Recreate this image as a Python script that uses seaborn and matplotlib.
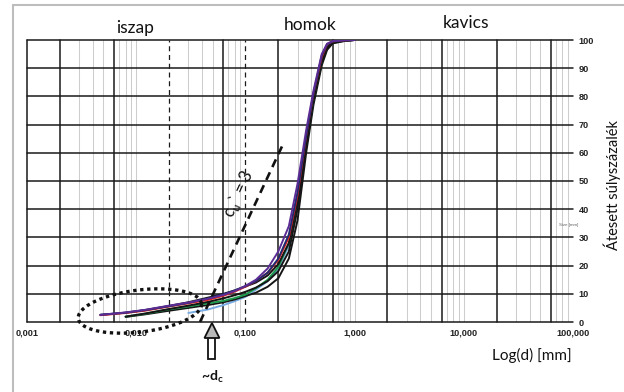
import numpy as np
import pandas as pd
import matplotlib
matplotlib.use("Agg")
import matplotlib.pyplot as plt
import seaborn as sns
from matplotlib.lines import Line2D
from matplotlib.patches import Polygon
from matplotlib.transforms import IdentityTransform

# Grain diameters [mm] and passing percentages of each sample
diam = [0.0047, 0.008, 0.012, 0.02, 0.03, 0.045, 0.063, 0.08, 0.1, 0.125,
        0.16, 0.2, 0.25, 0.3, 0.36, 0.42, 0.5, 0.56, 0.63, 0.8, 1.0]
nan = np.nan
blue = [nan, nan, nan, nan, 3.2, 4.4, 6.0, 7.4, 8.9, 11.5,
        14.5, 19.0, 27.0, 41.0, 63.0, 79.0, 92.5, 97.5, 99.2, 99.8, 100.0]
black3 = [nan, 1.8, 2.7, 4.0, 5.0, 6.0, 7.0, 8.0, 9.2, 10.4,
          12.5, 15.5, 22.5, 36.0, 60.0, 77.0, 91.0, 96.5, 98.8, 99.6, 100.0]
green = [nan, 1.9, 2.9, 4.5, 5.5, 6.6, 7.5, 8.5, 9.7, 12.0,
         15.0, 19.5, 28.0, 42.0, 63.0, 79.0, 92.5, 97.5, 99.2, 99.8, 100.0]
black2 = [nan, 1.9, 3.0, 4.6, 5.8, 7.1, 8.4, 9.5, 10.7, 12.2,
          14.5, 18.0, 25.0, 40.0, 62.0, 78.5, 92.0, 97.0, 99.0, 99.7, 100.0]
black1 = [2.5, 3.3, 4.2, 5.7, 7.0, 8.6, 10.0, 11.2, 12.6, 14.0,
          16.5, 20.5, 28.0, 43.0, 64.0, 80.0, 93.0, 97.5, 99.2, 99.8, 100.0]
red = [2.4, 3.2, 4.0, 5.5, 6.6, 7.8, 9.3, 10.8, 12.5, 14.5,
       17.5, 22.0, 30.0, 45.0, 66.0, 81.0, 94.0, 98.5, 99.5, 99.9, 100.0]
navy = [2.6, 3.3, 4.2, 5.6, 6.8, 8.3, 9.8, 11.2, 12.7, 14.5,
        17.5, 22.5, 31.0, 46.0, 66.0, 81.0, 94.5, 98.5, 99.5, 99.9, 100.0]
purple = [2.5, 3.4, 4.3, 5.8, 6.9, 8.2, 9.6, 11.0, 12.8, 15.0,
          19.0, 25.0, 34.0, 49.0, 68.0, 82.0, 95.0, 98.7, 99.6, 99.9, 100.0]

samples = {"blue": blue, "black3": black3, "green": green, "black2": black2,
           "black1": black1, "red": red, "navy": navy, "purple": purple}
palette = {"blue": "#78ace3", "black3": "#151515", "green": "#1c9a4c",
           "black2": "#151515", "black1": "#151515", "red": "#e3201c",
           "navy": "#1f2a6e", "purple": "#5b2d94"}

# Grid and reference values
x_ticks = [0.001, 0.01, 0.1, 1, 10, 100]
x_tick_labels = ["0,001", "0,010", "0,100", "1,000", "10,000", "100,000"]
y_ticks = list(range(0, 101, 10))
black_verticals = [0.001, 0.002, 0.0063, 0.063, 0.2, 0.63, 2, 6.3, 20, 63]
dashed_verticals = [0.02, 0.1]
cu_line_d = [0.0384, 0.2257]
cu_line_p = [0.0, 63.8]
d_c = 0.0494

records = []
for name, vals in samples.items():
    for d, p in zip(diam, vals):
        if not np.isnan(p):
            records.append({"d": d, "p": p, "sample": name})
df = pd.DataFrame(records)

sns.set_style("white")
plt.rcParams["font.family"] = ["Lato", "DejaVu Sans"]

W, H = 624, 392
fig = plt.figure(figsize=(W / 100, H / 100), dpi=100)
fig.patch.set_facecolor("white")
ax = fig.add_axes([27 / W, (H - 322) / H, 546 / W, 282 / H])
ax.set_xscale("log")
ax.set_xlim(0.001, 100)
ax.set_ylim(0, 100)

# light minor grid
minor = []
for dec in [0.001, 0.01, 0.1, 1, 10]:
    for m in [1, 2, 3, 4, 5, 7, 8, 9]:
        v = round(dec * m, 6)
        if v in black_verticals or v in dashed_verticals or v <= 0.001:
            continue
        minor.append(v)
for v in minor:
    ax.axvline(v, color="#cdcdcd", lw=0.75, zorder=1)
for v in black_verticals:
    ax.axvline(v, color="#1a1a1a", lw=1.1, zorder=2, clip_on=False)
for v in dashed_verticals:
    ax.axvline(v, color="#1a1a1a", lw=0.9, ls=(0, (4, 3)), zorder=2)
for v in y_ticks:
    ax.axhline(v, color="#1a1a1a", lw=1.1, zorder=2, clip_on=False)

sns.lineplot(data=df, x="d", y="p", hue="sample", palette=palette,
             estimator=None, sort=True, legend=False, lw=1.4, ax=ax, zorder=4)

# uniformity line
ax.plot(cu_line_d, cu_line_p, color="#111111", lw=1.9, ls=(0, (3.2, 2.2)),
        zorder=5, clip_on=False)
ax.text(0.086, 45.5, r"c$_\mathregular{u}$` = 3", rotation=65, rotation_mode="anchor",
        ha="center", va="center", fontsize=12, color="#111111", zorder=6)

ax.set_xticks(x_ticks)
ax.set_xticklabels(x_tick_labels)
ax.xaxis.set_minor_locator(matplotlib.ticker.NullLocator())
ax.yaxis.tick_right()
ax.set_yticks(y_ticks)
ax.set_yticklabels([str(v) for v in y_ticks])
ax.tick_params(axis="both", length=0, labelsize=6.6, labelcolor="#222222")
ax.tick_params(axis="x", pad=5)
ax.tick_params(axis="y", pad=4)
for lab in ax.get_xticklabels() + ax.get_yticklabels():
    lab.set_family(["Liberation Sans", "DejaVu Sans"])
    lab.set_fontweight("bold")
ax.set_xlabel("")
ax.set_ylabel("")
for s in ax.spines.values():
    s.set_visible(False)

# dotted ellipse around the fine fraction
cx, cy = ax.transData.transform((0.0108, 3.9))
t = np.linspace(0, 2 * np.pi, 300)
a, b, ang = 62, 21, np.deg2rad(7)
ex = cx + a * np.cos(t) * np.cos(ang) - b * np.sin(t) * np.sin(ang)
ey = cy + a * np.cos(t) * np.sin(ang) + b * np.sin(t) * np.cos(ang)
fig.add_artist(Line2D(ex, ey, transform=IdentityTransform(), color="#111111",
                      lw=2.4, ls=(0, (1, 1.1)), zorder=7))

# hollow arrow pointing at d_c
x0, y0 = ax.transData.transform((d_c, 0))
shaft = [(x0 - 3.5, y0 - 15), (x0 + 3.5, y0 - 15), (x0 + 3.5, y0 - 37), (x0 - 3.5, y0 - 37)]
head = [(x0, y0 - 1), (x0 + 7.5, y0 - 16), (x0 - 7.5, y0 - 16)]
fig.add_artist(Polygon(shaft, closed=True, transform=IdentityTransform(),
                       fc="white", ec="#111111", lw=1.3, zorder=7))
fig.add_artist(Polygon(head, closed=True, transform=IdentityTransform(),
                       fc="#b9b9b9", ec="#111111", lw=1.3, zorder=8))
fig.text(x0 / W, 1 - 377 / H, r"~d$_\mathregular{c}$", ha="center", va="center",
         fontsize=10, fontweight="bold", color="#111111")

# zone names and axis titles
fig.text(135.5 / W, 1 - 28 / H, "iszap", ha="center", va="center", fontsize=12.5, color="#111111")
fig.text(310 / W, 1 - 25 / H, "homok", ha="center", va="center", fontsize=12.5, color="#111111")
fig.text(466 / W, 1 - 23 / H, "kavics", ha="center", va="center", fontsize=12.5, color="#111111")
fig.text(532 / W, 1 - 355 / H, "Log(d) [mm]", ha="center", va="center", fontsize=11, color="#111111")
fig.text(612 / W, 1 - 185 / H, "Átesett súlyszázalék", ha="center", va="center",
         rotation=90, fontsize=10.5, color="#111111")
fig.text(569 / W, 1 - 225 / H, "Size [mm]", ha="center", va="center", fontsize=3.2,
         color="#666666", family=["Liberation Sans", "DejaVu Sans"])

# outer frame
fig.add_artist(Line2D([13 / W, 13 / W], [0, 1 - 5 / H], transform=fig.transFigure,
                      color="#bdbdbd", lw=1.5))
fig.add_artist(Line2D([13 / W, 1], [1 - 5 / H, 1 - 5 / H], transform=fig.transFigure,
                      color="#bdbdbd", lw=1.5))

fig.savefig("out.png", dpi=100)
